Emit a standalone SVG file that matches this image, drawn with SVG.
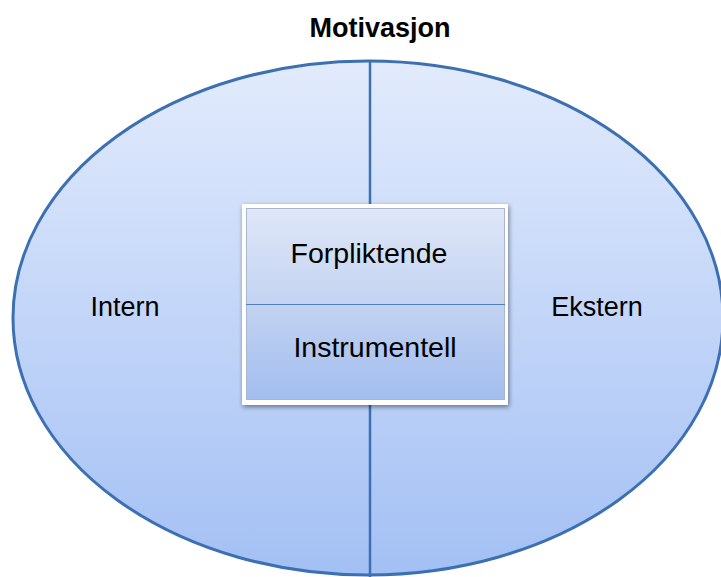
<svg xmlns="http://www.w3.org/2000/svg" width="721" height="577" viewBox="0 0 721 577">
<defs>
<linearGradient id="gEll" x1="0" y1="0" x2="0" y2="1">
<stop offset="0" stop-color="#e2ebfc"/>
<stop offset="1" stop-color="#a3c0f4"/>
</linearGradient>
<linearGradient id="gBox" x1="0" y1="0" x2="0" y2="1">
<stop offset="0" stop-color="#dfe7f8"/>
<stop offset="0.5" stop-color="#c3d3f1"/>
<stop offset="1" stop-color="#a2bdef"/>
</linearGradient>
<filter id="sh" x="-10%" y="-10%" width="120%" height="120%">
<feGaussianBlur in="SourceAlpha" stdDeviation="2.5"/>
<feOffset dx="1" dy="2" result="b"/>
<feComponentTransfer><feFuncA type="linear" slope="0.45"/></feComponentTransfer>
<feMerge><feMergeNode/><feMergeNode in="SourceGraphic"/></feMerge>
</filter>
</defs>
<style>
text{font-family:"Liberation Sans",Arial,sans-serif;fill:#000;text-anchor:middle}
.lbl{font-size:27px}
.bx{font-size:28.5px}
.ttl{font-size:27px;font-weight:bold}
.ln{stroke:#3d70b2;fill:none}
</style>
<rect width="721" height="577" fill="#fff"/>
<g id="ellipse">
<ellipse cx="368" cy="318" rx="355" ry="257" fill="url(#gEll)" stroke="#3d70b2" stroke-width="3"/>
</g>
<g id="connectors">
<line class="ln" x1="370" y1="61" x2="370" y2="577" stroke-width="2.5"/>
</g>
<g id="title"><text class="ttl" x="380" y="37">Motivasjon</text></g>
<g id="intern"><text class="lbl" x="125" y="316">Intern</text></g>
<g id="ekstern"><text class="lbl" x="597" y="316">Ekstern</text></g>
<g id="box" filter="url(#sh)">
<rect x="242" y="204" width="266" height="201" fill="#fff"/>
<rect x="246.5" y="208.5" width="258" height="191" fill="url(#gBox)" stroke="#a9b7cc" stroke-width="1"/>
<line x1="246" y1="304.5" x2="505" y2="304.5" stroke="#4f7fbf" stroke-width="1.2"/>
</g>
<g id="forpliktende"><text class="bx" x="369" y="263">Forpliktende</text></g>
<g id="instrumentell"><text class="bx" x="375" y="357">Instrumentell</text></g>
</svg>
